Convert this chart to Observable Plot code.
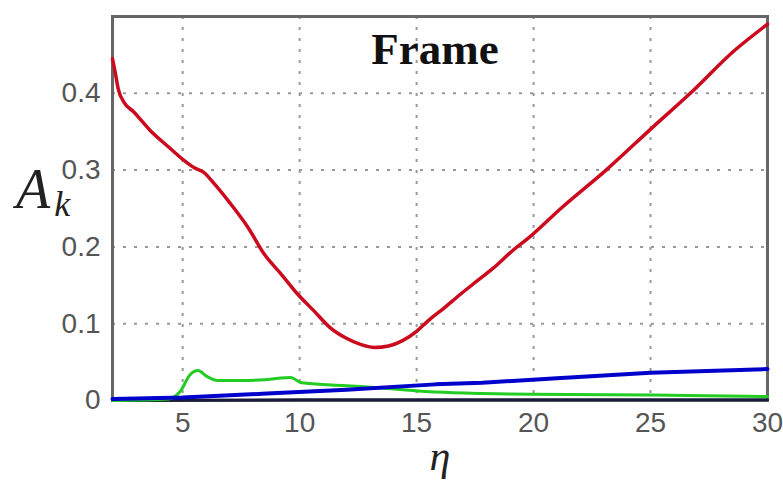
<!DOCTYPE html>
<html>
<head>
<meta charset="utf-8">
<script src="https://cdn.jsdelivr.net/npm/d3@7"></script>
<script src="https://cdn.jsdelivr.net/npm/@observablehq/plot@0.6"></script>
<style>
  body { margin: 0; background: #fff; }
  #chart svg { display: block; }
</style>
</head>
<body>
<div id="chart"></div>
<script>
// Amplitude A_k of each mode versus eta for the frame structure
const redEta = [2.0, 2.1, 2.25, 2.5, 2.9, 3.6, 4.4, 5.0, 5.5, 5.9, 6.3, 7.0, 7.8, 8.5, 9.2, 9.9, 10.6, 11.3, 12.0, 12.6, 13.2, 13.8, 14.4, 15.0, 15.5, 16.2, 16.9, 17.6, 18.3, 19.1, 19.8, 21.2, 23.1, 25.1, 26.7, 28.6, 30.0];
const redA   = [0.445, 0.430, 0.405, 0.388, 0.376, 0.352, 0.330, 0.314, 0.303, 0.297, 0.284, 0.258, 0.225, 0.190, 0.165, 0.139, 0.117, 0.095, 0.081, 0.073, 0.069, 0.071, 0.078, 0.090, 0.104, 0.121, 0.139, 0.156, 0.173, 0.195, 0.212, 0.251, 0.300, 0.356, 0.400, 0.456, 0.490];

const greenEta = [2.0, 4.4, 4.9, 5.3, 5.65, 6.05, 6.5, 7.5, 8.5, 9.1, 9.6, 10.1, 11.5, 12.2, 13.6, 15.8, 17.8, 20.0, 25.0, 30.0];
const greenA   = [0.000, 0.002, 0.012, 0.033, 0.039, 0.031, 0.026, 0.026, 0.027, 0.029, 0.030, 0.023, 0.020, 0.019, 0.016, 0.011, 0.009, 0.008, 0.007, 0.005];

const blueEta = [2.0, 5.0, 8.6, 12.0, 15.8, 17.8, 21.0, 25.0, 30.0];
const blueA   = [0.002, 0.004, 0.009, 0.014, 0.021, 0.023, 0.029, 0.036, 0.041];

const blackEta = [2.0, 10.0, 20.0, 30.0];
const blackA   = [0.000, 0.001, 0.001, 0.001];

const xTicks = [5, 10, 15, 20, 25, 30];
const yTicks = [0, 0.1, 0.2, 0.3, 0.4];
const yTickLabels = ["0", "0.1", "0.2", "0.3", "0.4"];

const rows = (etas, vals) => etas.map((eta, i) => ({eta, A: vals[i]}));

const chart = Plot.plot({
  width: 783,
  height: 484,
  marginLeft: 112,
  marginRight: 16,
  marginTop: 16,
  marginBottom: 84,
  style: {fontFamily: "'Liberation Sans', Arial, sans-serif", fontSize: "28px", color: "#555", background: "#fff"},
  x: {domain: [2, 30], ticks: xTicks, tickSize: 0, tickPadding: 12, label: null},
  y: {domain: [0, 0.5], ticks: yTicks, tickFormat: d => yTickLabels[yTicks.indexOf(d)], tickSize: 0, tickPadding: 12, label: null},
  marks: [
    Plot.gridX(xTicks, {stroke: "#999", strokeOpacity: 1, strokeWidth: 2, strokeDasharray: "3,8"}),
    Plot.gridY(yTicks, {stroke: "#999", strokeOpacity: 1, strokeWidth: 2, strokeDasharray: "3,8"}),
    Plot.frame({stroke: "#666", strokeWidth: 3}),
    Plot.line(rows(blackEta, blackA), {x: "eta", y: "A", stroke: "#1a1a3a", strokeWidth: 3}),
    Plot.line(rows(greenEta, greenA), {x: "eta", y: "A", stroke: "#22cc22", strokeWidth: 3, curve: "monotone-x"}),
    Plot.line(rows(blueEta, blueA), {x: "eta", y: "A", stroke: "#0000cc", strokeWidth: 4}),
    Plot.line(rows(redEta, redA), {x: "eta", y: "A", stroke: "#cc0a1e", strokeWidth: 3.5, curve: "monotone-x"}),
    Plot.text(["Frame"], {frameAnchor: "top", dy: 47, dx: -5, lineAnchor: "bottom", fontFamily: "'Liberation Serif', serif", fontWeight: "bold", fontSize: 45, fill: "#111"})
  ]
});

const svg = d3.select(chart);

// y-axis label A_k
const yLab = svg.append("text")
  .attr("x", 16).attr("y", 208)
  .attr("text-anchor", "start")
  .attr("font-family", "'Liberation Serif', serif")
  .attr("font-style", "italic")
  .attr("fill", "#222");
yLab.append("tspan").attr("font-size", 56).text("A");
yLab.append("tspan").attr("font-size", 36).attr("dx", 4).attr("dy", 8).text("k");

// x-axis label eta
svg.append("text")
  .attr("x", 440).attr("y", 470)
  .attr("text-anchor", "middle")
  .attr("font-family", "'Liberation Serif', serif")
  .attr("font-style", "italic")
  .attr("font-size", 42)
  .attr("fill", "#222")
  .text("η");

document.getElementById("chart").appendChild(chart);
</script>
</body>
</html>
